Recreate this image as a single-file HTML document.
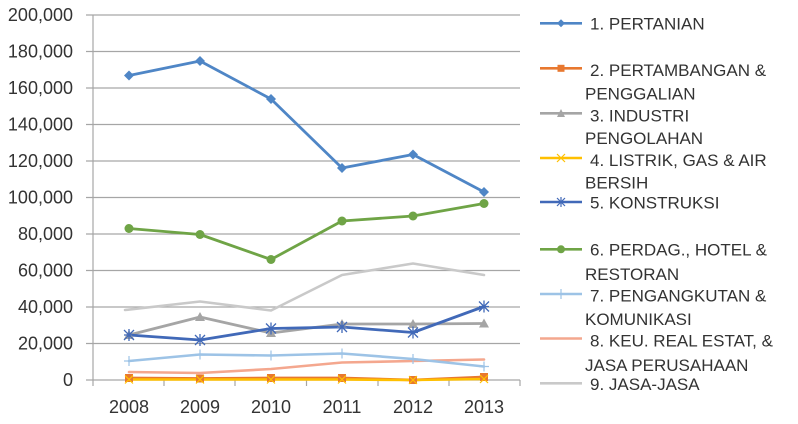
<!DOCTYPE html>
<html><head><meta charset="utf-8"><style>
html,body{margin:0;padding:0;background:#fff;}
svg{display:block;}
text{font-family:"Liberation Sans",Arial,sans-serif;fill:#333;}
</style></head><body>
<svg width="798" height="424" viewBox="0 0 798 424" xmlns="http://www.w3.org/2000/svg">
<rect width="798" height="424" fill="#fff"/>
<!-- gridlines -->
<g stroke="#A6A6A6" stroke-width="1.2">
<line x1="86" y1="15" x2="520" y2="15"/>
<line x1="86" y1="51.5" x2="520" y2="51.5"/>
<line x1="86" y1="88" x2="520" y2="88"/>
<line x1="86" y1="124.5" x2="520" y2="124.5"/>
<line x1="86" y1="161" x2="520" y2="161"/>
<line x1="86" y1="197.5" x2="520" y2="197.5"/>
<line x1="86" y1="234" x2="520" y2="234"/>
<line x1="86" y1="270.5" x2="520" y2="270.5"/>
<line x1="86" y1="307" x2="520" y2="307"/>
<line x1="86" y1="343.5" x2="520" y2="343.5"/>
<line x1="86" y1="380" x2="520" y2="380"/>
<line x1="93" y1="15" x2="93" y2="386"/>
<line x1="164" y1="380" x2="164" y2="386"/>
<line x1="235" y1="380" x2="235" y2="386"/>
<line x1="306.5" y1="380" x2="306.5" y2="386"/>
<line x1="378" y1="380" x2="378" y2="386"/>
<line x1="449" y1="380" x2="449" y2="386"/>
<line x1="520" y1="380" x2="520" y2="386"/>
</g>
<!-- y labels -->
<g font-size="18" text-anchor="end">
<text x="73" y="21">200,000</text>
<text x="73" y="57.5">180,000</text>
<text x="73" y="94">160,000</text>
<text x="73" y="130.5">140,000</text>
<text x="73" y="167">120,000</text>
<text x="73" y="203.5">100,000</text>
<text x="73" y="240">80,000</text>
<text x="73" y="276.5">60,000</text>
<text x="73" y="313">40,000</text>
<text x="73" y="349.5">20,000</text>
<text x="73" y="386">0</text>
</g>
<!-- x labels -->
<g font-size="18" text-anchor="middle">
<text x="129" y="413">2008</text>
<text x="200" y="413">2009</text>
<text x="271" y="413">2010</text>
<text x="342" y="413">2011</text>
<text x="413" y="413">2012</text>
<text x="484" y="413">2013</text>
</g>

<g fill="none" stroke-linejoin="round" stroke-linecap="round">
<polyline stroke="#C9C9C9" stroke-width="2.6" points="125,310 200,301.5 271,310.5 342,275 413,263.5 484,275"/>
<polyline stroke="#F4A78E" stroke-width="2.6" points="129,372 200,373 271,369 342,362.5 413,361 484,359.5"/>
<polyline stroke="#9DC3E6" stroke-width="2.6" points="129,361 200,354.5 271,355.5 342,353.5 413,359 484,366.5"/>
<polyline stroke="#A5A5A5" stroke-width="2.8" points="129,335 200,317 271,333 342,324 413,324 484,323.5"/>
<polyline stroke="#4169B8" stroke-width="2.8" points="129,335 200,340 271,328.5 342,327 413,332.5 484,306.5"/>
<polyline stroke="#E8782F" stroke-width="2.8" points="129,378 200,378.5 271,378 342,378 413,380 484,377"/>
<polyline stroke="#FFC000" stroke-width="2.6" points="129,379.5 200,379.5 271,379.5 342,379.5 413,380 484,379"/>
<polyline stroke="#6FA446" stroke-width="2.8" points="129,228.5 200,234.5 271,259.5 342,221 413,216 484,203.5"/>
<polyline stroke="#4F86C6" stroke-width="2.8" points="129,75.5 200,61 271,99 342,168 413,154.5 484,192"/>
</g>

<g stroke="#9DC3E6" stroke-width="1.2">
<path d="M129 356v10M124 361h10M200 349.5v10M195 354.5h10M271 350.5v10M266 355.5h10M342 348.5v10M337 353.5h10M413 354v10M408 359h10M484 361.5v10M479 366.5h10"/>
</g>
<g fill="#A5A5A5">
<polygon points="129,330 134,339 124,339"/>
<polygon points="200,312 205,321 195,321"/>
<polygon points="271,328 276,337 266,337"/>
<polygon points="342,319 347,328 337,328"/>
<polygon points="413,319 418,328 408,328"/>
<polygon points="484,318.5 489,327.5 479,327.5"/>
</g>
<g stroke="#4169B8" stroke-width="1.3">
<path d="M124 330l10 10M134 330l-10 10M129 329v12M124 335h10"/>
<path d="M195 335l10 10M205 335l-10 10M200 334v12M195 340h10"/>
<path d="M266 323.5l10 10M276 323.5l-10 10M271 322.5v12M266 328.5h10"/>
<path d="M337 322l10 10M347 322l-10 10M342 321v12M337 327h10"/>
<path d="M408 327.5l10 10M418 327.5l-10 10M413 326.5v12M408 332.5h10"/>
<path d="M479 301.5l10 10M489 301.5l-10 10M484 300.5v12M479 306.5h10"/>
</g>
<g fill="#E8782F">
<rect x="125" y="374" width="8" height="8"/>
<rect x="196" y="374.5" width="8" height="8"/>
<rect x="267" y="374" width="8" height="8"/>
<rect x="338" y="374" width="8" height="8"/>
<rect x="409" y="376" width="8" height="8"/>
<rect x="480" y="373" width="8" height="8"/>
</g>
<g stroke="#FFC000" stroke-width="1.2">
<path d="M125 375.5l8 8M133 375.5l-8 8M196 375.5l8 8M204 375.5l-8 8M267 375.5l8 8M275 375.5l-8 8M338 375.5l8 8M346 375.5l-8 8M409 376l8 8M417 376l-8 8M480 375l8 8M488 375l-8 8"/>
</g>
<g fill="#6FA446">
<circle cx="129" cy="228.5" r="4.5"/>
<circle cx="200" cy="234.5" r="4.5"/>
<circle cx="271" cy="259.5" r="4.5"/>
<circle cx="342" cy="221" r="4.5"/>
<circle cx="413" cy="216" r="4.5"/>
<circle cx="484" cy="203.5" r="4.5"/>
</g>
<g fill="#4F86C6">
<polygon points="129,70.5 134,75.5 129,80.5 124,75.5"/>
<polygon points="200,56 205,61 200,66 195,61"/>
<polygon points="271,94 276,99 271,104 266,99"/>
<polygon points="342,163 347,168 342,173 337,168"/>
<polygon points="413,149.5 418,154.5 413,159.5 408,154.5"/>
<polygon points="484,187 489,192 484,197 479,192"/>
</g>

<!-- legend -->
<g fill="none" stroke-width="2.6">
<line x1="540" y1="23.3" x2="582" y2="23.3" stroke="#4F86C6"/>
<line x1="540" y1="68.3" x2="582" y2="68.3" stroke="#E8782F"/>
<line x1="540" y1="113.3" x2="582" y2="113.3" stroke="#A5A5A5"/>
<line x1="540" y1="158" x2="582" y2="158" stroke="#FFC000"/>
<line x1="540" y1="202" x2="582" y2="202" stroke="#4169B8"/>
<line x1="540" y1="249.3" x2="582" y2="249.3" stroke="#6FA446"/>
<line x1="540" y1="294" x2="582" y2="294" stroke="#9DC3E6"/>
<line x1="540" y1="338.5" x2="582" y2="338.5" stroke="#F4A78E"/>
<line x1="540" y1="383.3" x2="582" y2="383.3" stroke="#C9C9C9"/>
</g>
<polygon points="561,19.3 565,23.3 561,27.3 557,23.3" fill="#4F86C6"/>
<rect x="557.5" y="64.8" width="7" height="7" fill="#E8782F"/>
<polygon points="561,109 565,117 557,117" fill="#A5A5A5"/>
<path d="M557 154l8 8M565 154l-8 8" stroke="#FFC000" stroke-width="1.2"/>
<path d="M557 198l8 8M565 198l-8 8M561 197v10" stroke="#4169B8" stroke-width="1.2"/>
<circle cx="561" cy="249.3" r="4" fill="#6FA446"/>
<path d="M561 289v10" stroke="#9DC3E6" stroke-width="1.2"/>

<g font-size="17">
<text x="590" y="29.3">1. PERTANIAN</text>
<text x="590" y="76">2. PERTAMBANGAN &amp;</text>
<text x="585" y="99.3">PENGGALIAN</text>
<text x="590" y="121.3">3. INDUSTRI</text>
<text x="585" y="144">PENGOLAHAN</text>
<text x="590" y="166">4. LISTRIK, GAS &amp; AIR</text>
<text x="585" y="188.7">BERSIH</text>
<text x="590" y="208.3">5. KONSTRUKSI</text>
<text x="590" y="255.7">6. PERDAG., HOTEL &amp;</text>
<text x="585" y="280">RESTORAN</text>
<text x="590" y="301.7">7. PENGANGKUTAN &amp;</text>
<text x="585" y="325">KOMUNIKASI</text>
<text x="590" y="346.7">8. KEU. REAL ESTAT, &amp;</text>
<text x="585" y="371">JASA PERUSAHAAN</text>
<text x="590" y="390">9. JASA-JASA</text>
</g>
</svg>
</body></html>
